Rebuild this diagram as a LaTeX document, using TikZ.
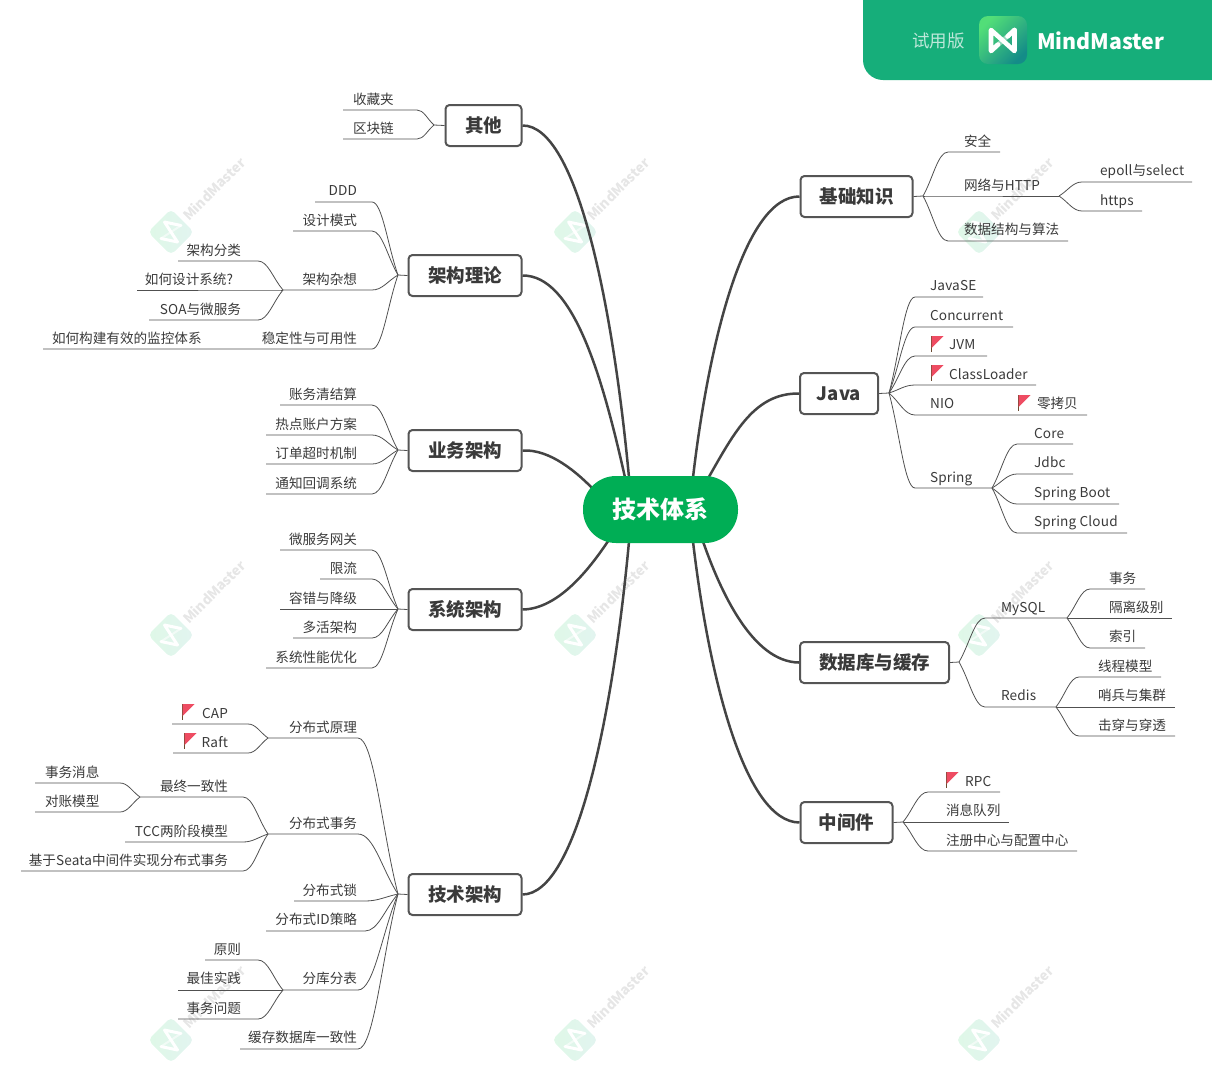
\documentclass[tikz,border=0pt]{standalone}
\usepackage{fontspec}
\setmainfont{Noto Sans CJK SC}
\newfontfamily\latf[LetterSpace=1.2]{Noto Sans CJK SC}
\newcommand\lat[1]{{\latf #1}}
\usetikzlibrary{calc}
\pgfdeclarelayer{wmlayer}
\pgfdeclarelayer{bglayer}
\pgfsetlayers{wmlayer,bglayer,main}
\definecolor{ink}{HTML}{3A3A3A}
\definecolor{wire}{HTML}{444444}
\definecolor{subw}{HTML}{505050}
\definecolor{boxline}{HTML}{555555}
\definecolor{rootgreen}{HTML}{00AE55}
\definecolor{hdr}{HTML}{16AE7A}
\definecolor{flagred}{HTML}{EE4C62}
\definecolor{pole}{HTML}{6B4A30}
\definecolor{wma}{HTML}{DFF8E7}
\definecolor{wmb}{HTML}{E2F4F0}
\definecolor{wmt}{HTML}{E6E6E6}
\definecolor{logoa}{HTML}{52DE78}
\definecolor{logob}{HTML}{148C88}
\tikzset{
  txt/.style={inner sep=0pt,outer sep=0pt,yshift=-2pt,font=\fontsize{13.6}{14}\selectfont,text=ink,text height=10pt,text depth=3pt},
  topic/.style={draw=boxline,line width=2pt,rounded corners=4pt,fill=white,font=\fontsize{18.5}{20}\selectfont\bfseries,text=ink,minimum height=41pt,inner sep=0pt},
  rootnode/.style={fill=rootgreen,rounded corners=33pt,minimum width=155pt,minimum height=67pt,inner sep=0pt,font=\fontsize{24}{26}\selectfont\bfseries,text=white},
  mainwire/.style={draw=wire,line width=2.5pt},
  subwire/.style={draw=subw,line width=0.8pt},
}
% main curve: from, control, control, to
\newcommand\mainc[4]{\begin{pgfonlayer}{bglayer}\draw[mainwire] (#1) .. controls #2 and #3 .. (#4);\end{pgfonlayer}}
% leaf link: parent, name, curve-end x, y, far x
\newcommand\lnk[5]{\coordinate (#2c) at (#3,#4);\coordinate (#2) at (#5,#4);
  \begin{pgfonlayer}{bglayer}\draw[subwire] (#1) .. controls ($(#1)!.4!(#2c)$) and ($(#2c)!.4!(#1|-#2c)$) .. (#2c) -- (#2);\end{pgfonlayer}}
\newcommand\tl[4]{\node[txt,anchor=west] (#1) at (#2,#3) {#4};}
\newcommand\tr[4]{\node[txt,anchor=east] (#1) at (#2,#3) {#4};}
\newcommand\flag[2]{\fill[pole] (#1-0.5,#2) rectangle (#1+0.7,#2+16);\fill[flagred] (#1+0.5,#2) -- (#1+12.5,#2) -- (#1+0.5,#2+12) -- cycle;}
\newcommand\wm[2]{\begin{pgfonlayer}{wmlayer}
  \begin{scope}[shift={(#1,#2)}]
  \path[rounded corners=5pt,left color=wma,right color=wmb] (0,-23) -- (23,0) -- (0,23) -- (-23,0) -- cycle;
  \draw[white,line width=3pt,line join=round,line cap=round] (10,-6.5) -- (-6.5,-10) -- (6.5,10) -- (-10,6.5);
  \draw[white,line width=2pt,opacity=.55] (10,-6.5) -- (-10,6.5);
  \node[rotate=45,anchor=west,inner sep=0pt,text=wmt,font=\fontsize{13.7}{14}\selectfont\bfseries] at (14,-14) {MindMaster};
  \end{scope}\end{pgfonlayer}}
\begin{document}
\begin{tikzpicture}[x=1pt,y=-1pt]
\useasboundingbox (0,0) rectangle (1212,1069);
% watermarks
\wm{171}{232}\wm{575}{232}\wm{979}{232}
\wm{171}{635}\wm{575}{635}\wm{979}{635}
\wm{171}{1040}\wm{575}{1040}\wm{979}{1040}
% header
\fill[hdr] (1212,0) -- (863,0) [rounded corners=20pt] -- (863,80) [sharp corners] -- (1212,80) -- cycle;
\node[inner sep=0pt,anchor=west,text=white!72!hdr,font=\fontsize{17.5}{18}\selectfont] (trial) at (912,41) {试用版};
\path[rounded corners=9pt,top color=logoa,bottom color=logob,shading angle=45] (979,16) rectangle (1027,64);
\draw[white,line width=4.6pt,opacity=.45] (1014.5,30) -- (991,51);
\draw[white,line width=4.6pt,line join=round,line cap=round] (1014.5,30) -- (1014.5,51) -- (991,30) -- (991,51) -- (998,44.5);
\draw[white,line width=4.6pt,line cap=round] (1014.5,30) -- (1007.5,36.5);
\node[inner sep=0pt,anchor=west,text=white,font=\fontsize{21.3}{24}\selectfont\bfseries] (brand) at (1037,41) {MindMaster};
% root
\node[rootnode] (root) at (660.5,509.5) {\raisebox{-1.5pt}{技术体系}};
% topics
\node[topic,minimum width=112pt] (jc) at (856.5,196.5) {\raisebox{-1pt}{基础知识}};
\node[topic,minimum width=78pt] (java) at (839,393.5) {\raisebox{-1pt}{Java}};
\node[topic,minimum width=149pt] (db) at (874.5,662.5) {\raisebox{-1pt}{数据库与缓存}};
\node[topic,minimum width=92pt] (mw) at (846.5,822.5) {\raisebox{-1pt}{中间件}};
\node[topic,minimum width=76pt] (qt) at (483.5,125.5) {\raisebox{-1pt}{其他}};
\node[topic,minimum width=113pt] (jg) at (465,275.5) {\raisebox{-1pt}{架构理论}};
\node[topic,minimum width=113pt] (yw) at (465,450.5) {\raisebox{-1pt}{业务架构}};
\node[topic,minimum width=113pt] (xt) at (465,609.5) {\raisebox{-1pt}{系统架构}};
\node[topic,minimum width=113pt] (js) at (465,894.5) {\raisebox{-1pt}{技术架构}};
% main wires (ends lie just inside the root, which covers them)
\coordinate (rjc) at ($(root.center)+(32.5,-32)$);
\coordinate (rjava) at ($(root.center)+(47.5,-31)$);
\coordinate (rdb) at ($(root.center)+(42.5,32)$);
\coordinate (rmw) at ($(root.center)+(32.5,32)$);
\coordinate (rqt) at ($(root.center)+(-31.5,-32)$);
\coordinate (rjg) at ($(root.center)+(-35.5,-32)$);
\coordinate (ryw) at ($(root.center)+(-64,-17)$);
\coordinate (rxt) at ($(root.center)+(-52,31)$);
\coordinate (rjs) at ($(root.center)+(-31.5,32)$);
\mainc{jc.west}{(745,196)}{(709,340)}{rjc}
\mainc{java.west}{(755,393)}{(735,431)}{rjava}
\mainc{db.west}{(752,662)}{(720,590)}{rdb}
\mainc{mw.west}{(745,822)}{(709,678)}{rmw}
\mainc{qt.east}{(577,125)}{(613,306)}{rqt}
\mainc{jg.east}{(573,275)}{(602,375)}{rjg}
\mainc{yw.east}{(550,449)}{(577,472)}{ryw}
\mainc{xt.east}{(560,609)}{(592,565)}{rxt}
\mainc{js.east}{(577,894)}{(613,714)}{rjs}
% hubs
\coordinate (h1) at (923,196);\coordinate (h2) at (889,393);\coordinate (h3) at (959,662);\coordinate (h4) at (903,822);
\coordinate (h5) at (434,125);\coordinate (h6) at (398,275);\coordinate (h7) at (398,450);\coordinate (h8) at (398,609);\coordinate (h9) at (398,894);
\begin{pgfonlayer}{bglayer}
\draw[subwire] (jc.east)--(h1) (java.east)--(h2) (db.east)--(h3) (mw.east)--(h4);
\draw[subwire] (qt.west)--(h5) (jg.west)--(h6) (yw.west)--(h7) (xt.west)--(h8) (js.west)--(h9);
\end{pgfonlayer}
% 基础知识
\lnk{h1}{a1}{948}{152}{1000}\tl{ta1}{964}{141}{安全}
\lnk{h1}{a2}{948}{196}{1059}\tl{ta2}{964}{185}{网络与\lat{HTTP}}
\lnk{a2}{a21}{1082}{182}{1192}\tl{ta21}{1100}{170}{\lat{epoll}与\lat{select}}
\lnk{a2}{a22}{1082}{211}{1142}\tl{ta22}{1100}{200}{\lat{https}}
\lnk{h1}{a3}{948}{241}{1068}\tl{ta3}{964}{229}{数据结构与算法}
% Java
\lnk{h2}{b1}{915}{297}{983}\tl{tb1}{930}{285}{\lat{JavaSE}}
\lnk{h2}{b2}{915}{327}{1013}\tl{tb2}{930}{315}{\lat{Concurrent}}
\lnk{h2}{b3}{915}{356}{987}\flag{931}{336}\tl{tb3}{949}{344}{\lat{JVM}}
\lnk{h2}{b4}{915}{385}{1036}\flag{931}{365}\tl{tb4}{949}{374}{\lat{ClassLoader}}
\lnk{h2}{b5}{915}{415}{1087}\tl{tb5}{930}{403}{\lat{NIO}}\flag{1018}{395}\tl{tb51}{1037}{403}{零拷贝}
\lnk{h2}{b6}{915}{488}{992}\tl{tb6}{930}{477}{\lat{Spring}}
\lnk{b6}{b61}{1017}{444}{1073}\tl{tb61}{1034}{433}{\lat{Core}}
\lnk{b6}{b62}{1017}{474}{1073}\tl{tb62}{1034}{462}{\lat{Jdbc}}
\lnk{b6}{b63}{1017}{504}{1119}\tl{tb63}{1034}{492}{\lat{Spring Boot}}
\lnk{b6}{b64}{1017}{533}{1127}\tl{tb64}{1034}{521}{\lat{Spring Cloud}}
% 数据库与缓存
\lnk{h3}{c1}{985}{618}{1067}\tl{tc1}{1001}{607}{\lat{MySQL}}
\lnk{h3}{c2}{985}{707}{1056}\tl{tc2}{1001}{695}{\lat{Redis}}
\lnk{c1}{c11}{1090}{589}{1145}\tl{tc11}{1109}{578}{事务}
\lnk{c1}{c12}{1090}{618}{1172}\tl{tc12}{1109}{607}{隔离级别}
\lnk{c1}{c13}{1090}{648}{1145}\tl{tc13}{1109}{636}{索引}
\lnk{c2}{c21}{1079}{677}{1161}\tl{tc21}{1098}{666}{线程模型}
\lnk{c2}{c22}{1079}{707}{1175}\tl{tc22}{1098}{695}{哨兵与集群}
\lnk{c2}{c23}{1079}{736}{1175}\tl{tc23}{1098}{725}{击穿与穿透}
% 中间件
\lnk{h4}{d1}{928}{792}{1000}\flag{946}{772}\tl{td1}{965}{781}{\lat{RPC}}
\lnk{h4}{d2}{928}{822}{1009}\tl{td2}{946}{810}{消息队列}
\lnk{h4}{d3}{928}{851}{1077}\tl{td3}{946}{840}{注册中心与配置中心}
% 其他
\lnk{h5}{e1}{417}{110}{343}\tl{te1}{353}{99}{收藏夹}
\lnk{h5}{e2}{417}{139}{343}\tl{te2}{353}{128}{区块链}
% 架构理论
\lnk{h6}{f1}{372}{202}{315}\tr{tf1}{357}{190}{\lat{DDD}}
\lnk{h6}{f2}{372}{231}{293}\tr{tf2}{357}{220}{设计模式}
\lnk{h6}{f3}{372}{290}{283}\tr{tf3}{357}{279}{架构杂想}
\lnk{f3}{f31}{258}{261}{178}\tr{tf31}{241}{250}{架构分类}
\lnk{f3}{f32}{258}{290}{137}\tr{tf32}{233}{279}{如何设计系统?}
\lnk{f3}{f33}{258}{320}{149}\tr{tf33}{241}{309}{\lat{SOA}与微服务}
\lnk{h6}{f4}{372}{349}{43}\tr{tf4}{357}{338}{稳定性与可用性}\tl{tf41}{52}{338}{如何构建有效的监控体系}
% 业务架构
\lnk{h7}{g1}{372}{405}{280}\tr{tg1}{357}{394}{账务清结算}
\lnk{h7}{g2}{372}{435}{266}\tr{tg2}{357}{424}{热点账户方案}
\lnk{h7}{g3}{372}{464}{266}\tr{tg3}{357}{453}{订单超时机制}
\lnk{h7}{g4}{372}{494}{266}\tr{tg4}{357}{483}{通知回调系统}
% 系统架构
\lnk{h8}{i1}{372}{550}{280}\tr{ti1}{357}{539}{微服务网关}
\lnk{h8}{i2}{372}{579}{320}\tr{ti2}{357}{568}{限流}
\lnk{h8}{i3}{372}{609}{280}\tr{ti3}{357}{598}{容错与降级}
\lnk{h8}{i4}{372}{638}{293}\tr{ti4}{357}{627}{多活架构}
\lnk{h8}{i5}{372}{668}{266}\tr{ti5}{357}{657}{系统性能优化}
% 技术架构
\lnk{h9}{j1}{358}{738}{268}\tr{tj1}{357}{727}{分布式原理}
\lnk{j1}{j11}{248}{724}{172}\flag{182}{704}\tr{tj11}{228}{713}{\lat{CAP}}
\lnk{j1}{j12}{248}{753}{173}\flag{184}{733}\tr{tj12}{228}{742}{\lat{Raft}}
\lnk{h9}{j2}{358}{834}{268}\tr{tj2}{357}{823}{分布式事务}
\lnk{j2}{j21}{243}{797}{140}\tr{tj21}{228}{786}{最终一致性}
\lnk{j21}{j211}{120}{783}{35}\tl{tj211}{45}{772}{事务消息}
\lnk{j21}{j212}{120}{812}{35}\tl{tj212}{45}{801}{对账模型}
\lnk{j2}{j22}{243}{842}{125}\tr{tj22}{228}{831}{\lat{TCC}两阶段模型}
\lnk{j2}{j23}{243}{871}{21}\tr{tj23}{228}{860}{基于\lat{Seata}中间件实现分布式事务}
\lnk{h9}{j3}{365}{901}{294}\tr{tj3}{357}{890}{分布式锁}
\lnk{h9}{j4}{365}{931}{266}\tr{tj4}{357}{919}{分布式\lat{ID}策略}
\lnk{h9}{j5}{358}{990}{283}\tr{tj5}{357}{978}{分库分表}
\lnk{j5}{j51}{258}{960}{205}\tr{tj51}{241}{949}{原则}
\lnk{j5}{j52}{258}{990}{178}\tr{tj52}{241}{978}{最佳实践}
\lnk{j5}{j53}{258}{1019}{178}\tr{tj53}{241}{1008}{事务问题}
\lnk{h9}{j6}{358}{1049}{240}\tr{tj6}{357}{1037}{缓存数据库一致性}
\end{tikzpicture}
\end{document}
